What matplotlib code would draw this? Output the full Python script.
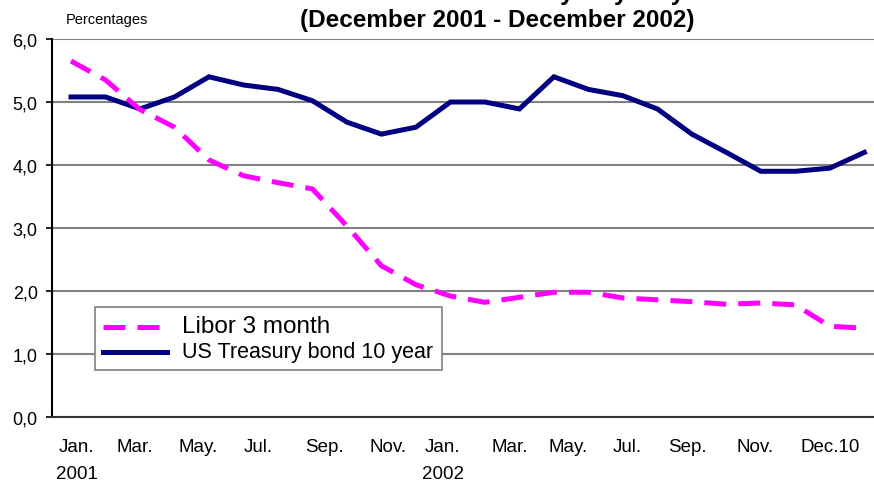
import numpy as np
import matplotlib
matplotlib.use("Agg")
import matplotlib.pyplot as plt

plt.rcParams['font.family'] = ['Liberation Sans', 'DejaVu Sans']

# monthly values, Jan 2001 .. Dec 2002
libor = [5.65, 5.35, 4.88, 4.60, 4.08, 3.83, 3.72, 3.62, 3.03, 2.40, 2.10, 1.92,
         1.82, 1.90, 1.98, 1.98, 1.89, 1.86, 1.83, 1.79, 1.81, 1.78, 1.44, 1.41]
treasury = [5.08, 5.08, 4.89, 5.08, 5.40, 5.27, 5.20, 5.02, 4.68, 4.49, 4.60, 5.00,
            5.00, 4.89, 5.40, 5.20, 5.10, 4.89, 4.49, 4.20, 3.90, 3.90, 3.95, 4.20]

tick_labels = ["Jan.\n2001", "Mar.", "May.", "Jul.", "Sep.", "Nov.", "Jan.\n2002",
               "Mar.", "May.", "Jul.", "Sep.", "Nov.", "Dec.10"]
tick_pos = [0.17, 1.86, 3.68, 5.42, 7.36, 9.19, 10.78, 12.72, 14.41, 16.14, 17.86, 19.83, 22.0]

x = np.arange(len(libor))

fig = plt.figure(figsize=(8.74, 4.81), dpi=100)
ax = fig.add_axes([52/874, 1-418/481, 822/874, 378/481])

ax.plot(x, treasury, color="#000080", lw=3.6, solid_joinstyle="miter",
        label="US Treasury bond 10 year", zorder=3)
ax.plot(x, libor, color="#FF00FF", lw=3.6, dashes=(4.4, 2.4),
        label="Libor 3 month", zorder=4)

ax.set_xlim(-0.551, 23.28)
ax.set_ylim(0, 6)
ax.set_yticks(np.arange(0, 7))
ax.set_yticklabels([f"{v:.1f}".replace(".", ",") for v in range(7)], fontsize=13)
ax.set_xticks(tick_pos)
ax.set_xticklabels(tick_labels, fontsize=13.5, linespacing=1.75)
ax.tick_params(axis="x", length=0, pad=15)
ax.tick_params(axis="y", length=4.3, width=1.2, direction="out", pad=6)

ax.grid(axis="y", color="#808080", lw=1.5)
ax.set_axisbelow(True)
for s in ["top", "right"]:
    ax.spines[s].set_visible(False)
ax.spines["left"].set_linewidth(1.5)
ax.spines["bottom"].set_linewidth(1.5)
ax.spines["bottom"].set_color("#333333")

h, l = ax.get_legend_handles_labels()
leg = ax.legend([h[1], h[0]], [l[1], l[0]], loc="upper left",
                bbox_to_anchor=(0.0523, 0.291), fancybox=False, framealpha=1,
                edgecolor="#808080", handlelength=4.6, borderpad=0.6,
                labelspacing=0.25, handletextpad=1.1, borderaxespad=0)
leg.get_frame().set_linewidth(1.2)
leg.get_texts()[0].set_fontsize(17.5)
leg.get_texts()[1].set_fontsize(15.5)

fig.text(66/874, 1-20/481, "Percentages", fontsize=10.5, va="center", ha="left")
fig.text(497/874, 1-20/481, "(December 2001 - December 2002)", fontsize=17.5,
         fontweight="bold", ha="center", va="center")
fig.text(497/874, 1.0, "Libor 3 month and Treasury 10 year yields", fontsize=17.5,
         fontweight="bold", ha="center", va="baseline")

fig.savefig("out.png", dpi=100)
